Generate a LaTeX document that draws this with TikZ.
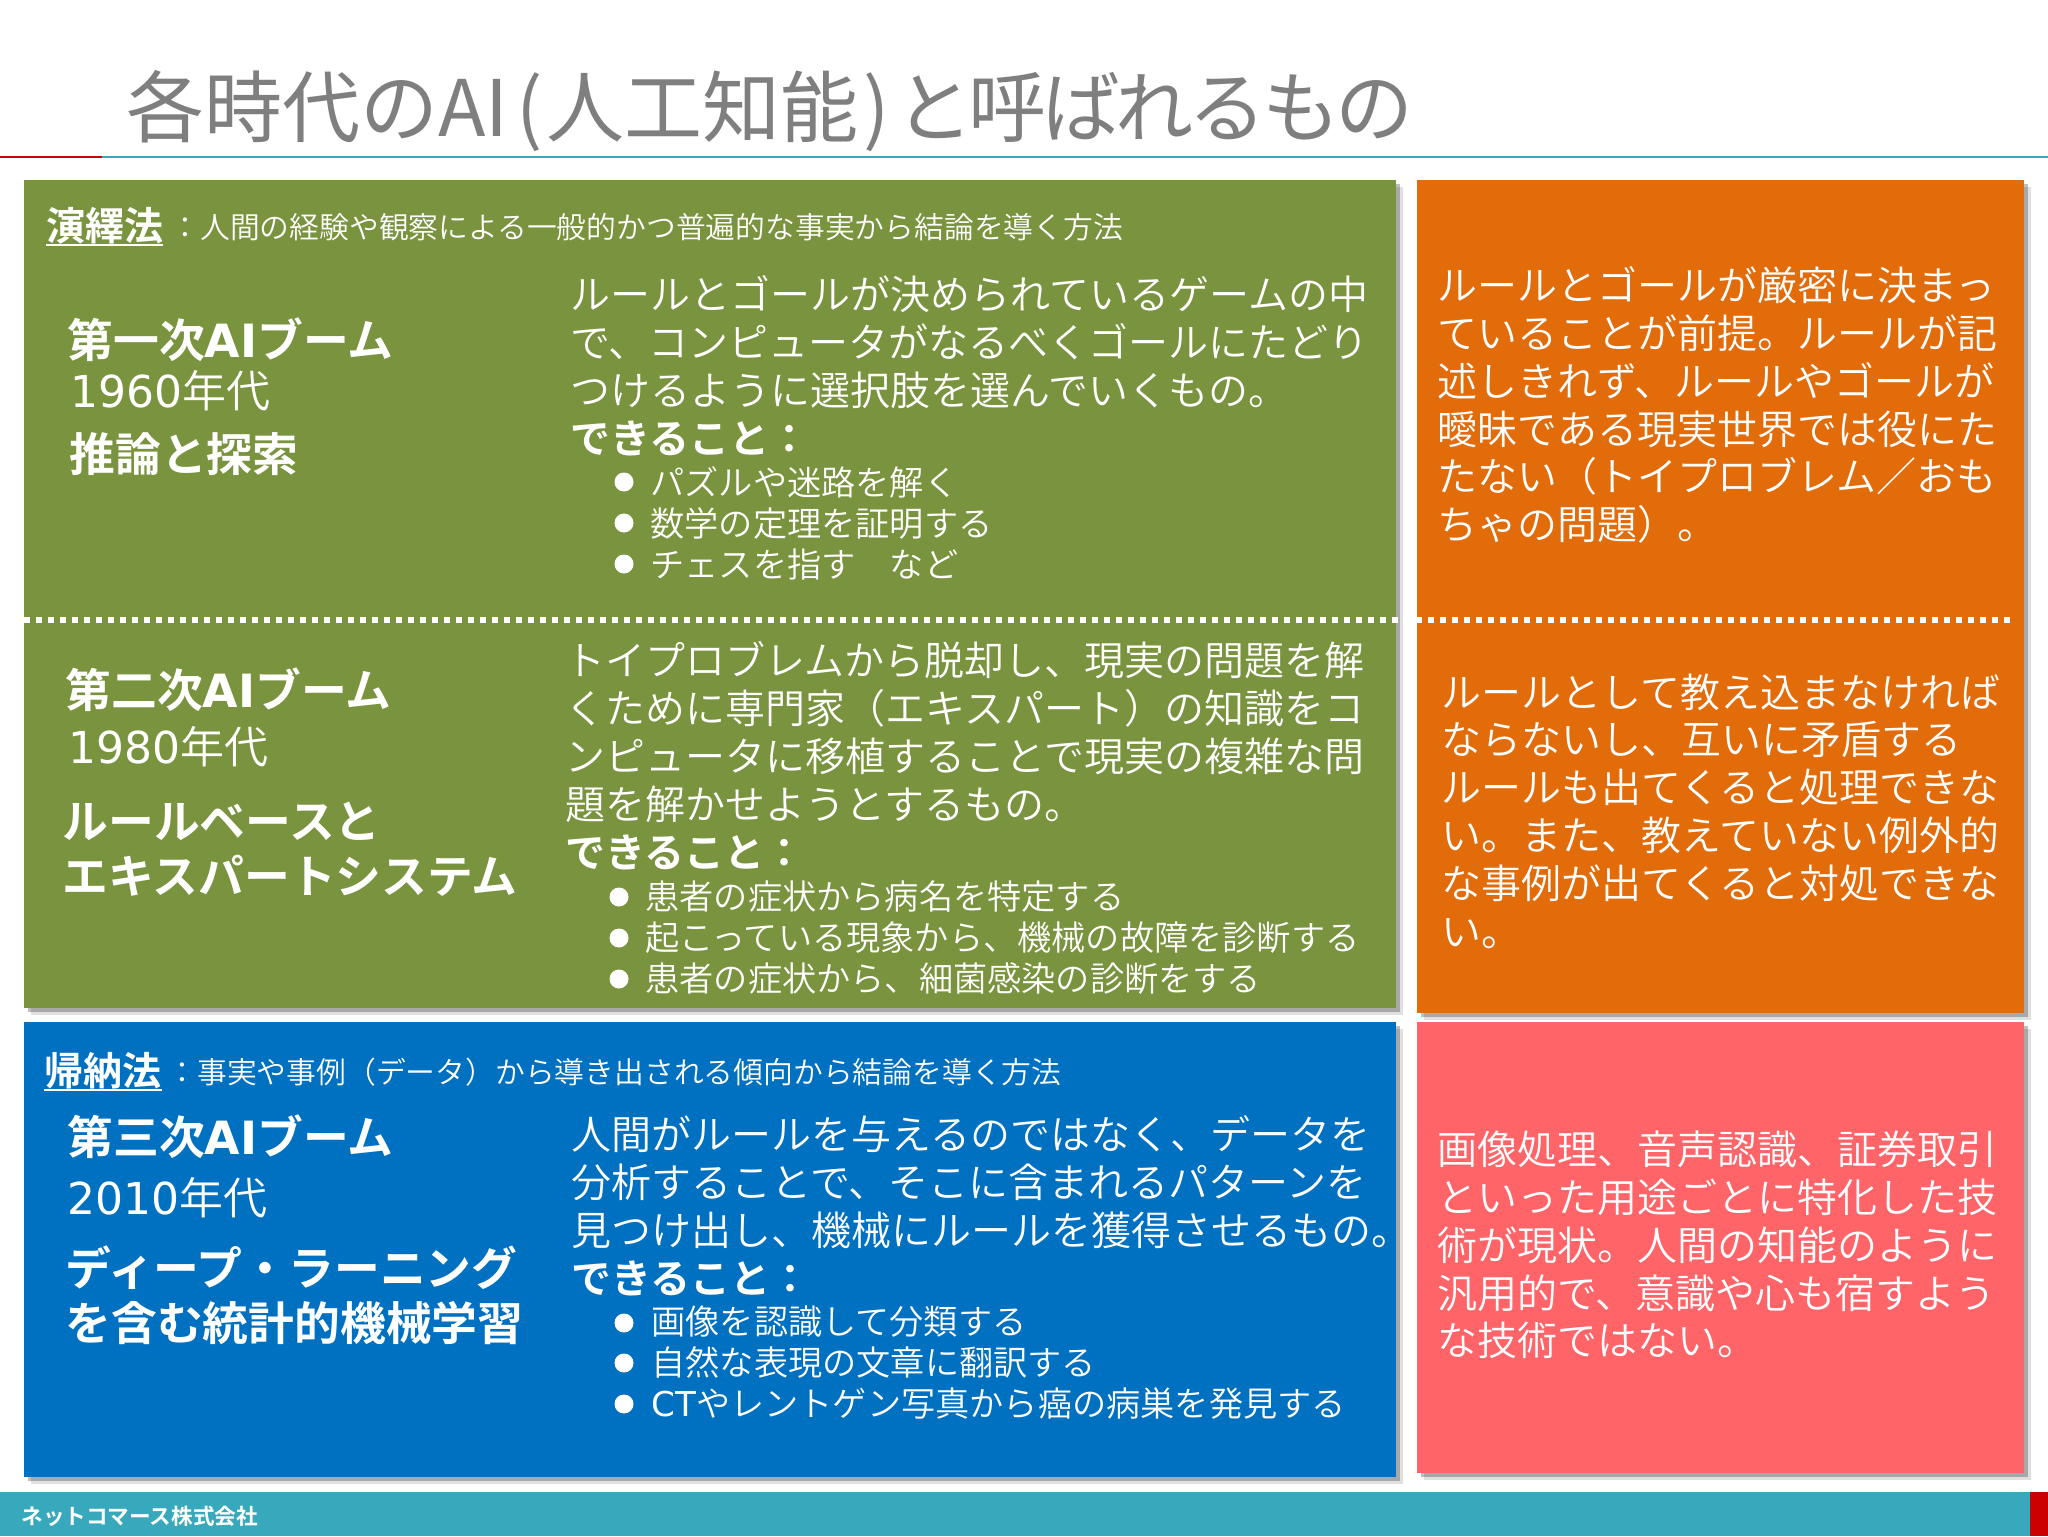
\documentclass[tikz,border=0pt]{standalone}
\usepackage{fontspec}
\usetikzlibrary{shadows}
\setmainfont{Noto Sans CJK JP}[UprightFont=* DemiLight]
\newfontfamily\latinfont{DejaVu Sans}
\newfontfamily\titlefont{Noto Sans CJK JP}
\newcommand{\lat}[1]{{\latinfont #1}}
\definecolor{ruleteal}{HTML}{38A9BC}
\definecolor{rulered}{HTML}{CC0000}
\definecolor{titlegray}{HTML}{7F7F7F}
\definecolor{panelgreen}{HTML}{7A933E}
\definecolor{panelorange}{HTML}{E26B0A}
\definecolor{panelblue}{HTML}{0070C0}
\definecolor{panelpink}{HTML}{FF6469}
\tikzset{
  panel/.style={drop shadow={shadow xshift=2pt,shadow yshift=-2pt,fill=black,opacity=.25},
    drop shadow={shadow xshift=3.5pt,shadow yshift=-3.5pt,fill=black,opacity=.12}},
  txt/.style={anchor=west,inner sep=0,text=white,align=left},
  body/.style={txt,font=\fontsize{20}{23.9}\selectfont},
  can/.style={txt,font=\fontsize{20}{24}\selectfont\bfseries},
  small/.style={txt,font=\fontsize{17.1}{20.5}\selectfont},
  boom/.style={txt,font=\fontsize{22.9}{27.5}\selectfont\bfseries},
  era/.style={txt,font=\fontsize{22}{25}\selectfont},
  head/.style={txt,font=\fontsize{19.5}{23}\selectfont\bfseries},
  note/.style={txt,font=\fontsize{14.9}{18}\selectfont},
  dot/.style={fill=white}
}
\begin{document}
\begin{tikzpicture}[x=.5pt,y=-.5pt]
\useasboundingbox (0,0) rectangle (2048,1536);
% title and footer
\node[anchor=west,inner sep=0,text=titlegray,font=\fontsize{39}{44}\selectfont\titlefont] (title) at (126,111) {各時代のAI\kern4pt(\kern2pt人工知能\kern2pt)\kern3pt{\addfontfeature{LetterSpace=-6}と呼ばれるもの}};
\fill[rulered] (0,155.5) rectangle (102,158);
\fill[ruleteal] (102,155.5) rectangle (2048,158);
\fill[ruleteal] (0,1492) rectangle (2030,1536);
\fill[rulered] (2030,1492) rectangle (2048,1536);
\node[txt,font=\fontsize{10.8}{13}\selectfont\bfseries] (company) at (21,1516) {ネットコマース株式会社};
% panels
\fill[panelgreen,panel] (24,180) rectangle (1396,1008);
\fill[panelorange,panel] (1417,180) rectangle (2024,1013);
\fill[panelblue,panel] (24,1022) rectangle (1396,1477);
\fill[panelpink,panel] (1417,1022) rectangle (2024,1473);
\draw[white,line width=2.75pt,dash pattern=on 3.2pt off 2.8pt] (24,620)--(2010,620);
% first boom
\node[head] (deduct) at (46,226) {演繹法};
\draw[white,line width=1pt] (46,245)--(163,245);
\node[note] (deducttext) at (170,227) {：人間の経験や観察による一般的かつ普遍的な事実から結論を導く方法};
\node[boom] (boomA) at (67,340) {第一次\lat{AI}ブーム};
\node[era] (eraA) at (70,391) {\lat{1960}年代};
\node[boom] (methodA) at (69,454) {推論と探索};
\node[body] (textA) at (570,342) {ルールとゴールが決められているゲームの中\\で、コンピュータがなるべくゴールにたどり\\つけるように選択肢を選んでいくもの。};
\node[can] (canA) at (570,438) {できること：};
\node[small] (listA) at (650,523) {パズルや迷路を解く\\数学の定理を証明する\\チェスを指す　など};
\foreach \y in {482,523,564}
  \fill[dot] (624,\y) circle (9.5);
% second boom
\node[boom] (boomB) at (65,690) {第二次\lat{AI}ブーム};
\node[era] (eraB) at (68,747) {\lat{1980}年代};
\node[boom] (methodB) at (62,849) {ルールベースと\\エキスパートシステム};
\node[body] (textB) at (565,732) {トイプロブレムから脱却し、現実の問題を解\\くために専門家（エキスパート）の知識をコ\\ンピュータに移植することで現実の複雑な問\\題を解かせようとするもの。};
\node[can] (canB) at (565,852) {できること：};
\node[small] (listB) at (645,938) {患者の症状から病名を特定する\\起こっている現象から、機械の故障を診断する\\患者の症状から、細菌感染の診断をする};
\foreach \y in {897,938,979}
  \fill[dot] (619,\y) circle (9.5);
% third boom
\node[head] (induct) at (44,1071) {帰納法};
\draw[white,line width=1pt] (44,1090)--(162,1090);
\node[note] (inducttext) at (167,1072) {：事実や事例（データ）から導き出される傾向から結論を導く方法};
\node[boom] (boomC) at (67,1137) {第三次\lat{AI}ブーム};
\node[era] (eraC) at (67,1198) {\lat{2010}年代};
\node[boom] (methodC) at (65,1295) {ディープ・ラーニング\\を含む統計的機械学習};
\node[body] (textC) at (571,1182) {人間がルールを与えるのではなく、データを\\分析することで、そこに含まれるパターンを\\見つけ出し、機械にルールを獲得させるもの。};
\node[can] (canC) at (571,1278) {できること：};
\node[small] (listC) at (651,1363) {画像を認識して分類する\\自然な表現の文章に翻訳する\\\lat{CT}やレントゲン写真から癌の病巣を発見する};
\foreach \y in {1323,1363,1404}
  \fill[dot] (624,\y) circle (9.5);
% right column
\node[body] (limitA) at (1437,405) {ルールとゴールが厳密に決まっ\\ていることが前提。ルールが記\\述しきれず、ルールやゴールが\\曖昧である現実世界では役にた\\たない（トイプロブレム／おも\\ちゃの問題）。};
\node[body] (limitB) at (1441,811) {ルールとして教え込まなければ\\ならないし、互いに矛盾する\\ルールも出てくると処理できな\\い。また、教えていない例外的\\な事例が出てくると対処できな\\い。};
\node[body] (limitC) at (1437,1245) {画像処理、音声認識、証券取引\\といった用途ごとに特化した技\\術が現状。人間の知能のように\\汎用的で、意識や心も宿すよう\\な技術ではない。};
\end{tikzpicture}
\end{document}
